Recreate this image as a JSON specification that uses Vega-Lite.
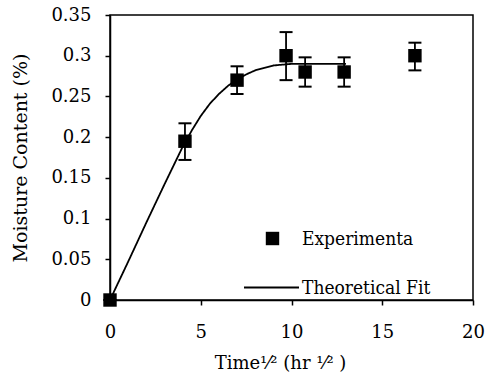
{
  "$schema": "https://vega.github.io/schema/vega-lite/v6.json",
  "width": 363,
  "height": 285,
  "autosize": {"type": "none"},
  "padding": {"left": 110, "top": 15, "right": 13, "bottom": 81},
  "background": "white",
  "config": {
    "view": {"stroke": "black", "strokeWidth": 1.5},
    "font": "DejaVu Serif",
    "axis": {
      "grid": false,
      "labelFlush": false,
      "domainColor": "black",
      "domainWidth": 1.5,
      "tickColor": "black",
      "tickWidth": 1.5,
      "tickSize": 5,
      "labelColor": "black",
      "labelFont": "DejaVu Serif",
      "labelFontSize": 18,
      "titleColor": "black",
      "titleFont": "DejaVu Serif",
      "titleFontSize": 18,
      "titleFontWeight": "normal"
    },
    "legend": {
      "labelFont": "DejaVu Serif Condensed",
      "labelFontSize": 19,
      "labelColor": "black",
      "padding": 0
    }
  },
  "datasets": {
    "pts": [
      {"x": 0, "y": 0, "lo": 0, "hi": 0, "series": "Experimenta"},
      {"x": 4.13, "y": 0.195, "lo": 0.172, "hi": 0.217, "series": "Experimenta"},
      {"x": 7.0, "y": 0.27, "lo": 0.253, "hi": 0.287, "series": "Experimenta"},
      {"x": 9.7, "y": 0.3, "lo": 0.27, "hi": 0.329, "series": "Experimenta"},
      {"x": 10.75, "y": 0.28, "lo": 0.262, "hi": 0.298, "series": "Experimenta"},
      {"x": 12.9, "y": 0.28, "lo": 0.262, "hi": 0.298, "series": "Experimenta"},
      {"x": 16.8, "y": 0.3, "lo": 0.282, "hi": 0.316, "series": "Experimenta"}
    ],
    "fit": [
      {"x": 0, "y": 0, "series": "Theoretical Fit"},
      {"x": 1, "y": 0.047, "series": "Theoretical Fit"},
      {"x": 2, "y": 0.095, "series": "Theoretical Fit"},
      {"x": 3, "y": 0.142, "series": "Theoretical Fit"},
      {"x": 4, "y": 0.188, "series": "Theoretical Fit"},
      {"x": 4.5, "y": 0.208, "series": "Theoretical Fit"},
      {"x": 5, "y": 0.226, "series": "Theoretical Fit"},
      {"x": 5.5, "y": 0.241, "series": "Theoretical Fit"},
      {"x": 6, "y": 0.253, "series": "Theoretical Fit"},
      {"x": 6.5, "y": 0.263, "series": "Theoretical Fit"},
      {"x": 7, "y": 0.271, "series": "Theoretical Fit"},
      {"x": 7.5, "y": 0.277, "series": "Theoretical Fit"},
      {"x": 8, "y": 0.282, "series": "Theoretical Fit"},
      {"x": 8.5, "y": 0.285, "series": "Theoretical Fit"},
      {"x": 9, "y": 0.288, "series": "Theoretical Fit"},
      {"x": 9.5, "y": 0.289, "series": "Theoretical Fit"},
      {"x": 10, "y": 0.29, "series": "Theoretical Fit"},
      {"x": 11, "y": 0.29, "series": "Theoretical Fit"},
      {"x": 12, "y": 0.29, "series": "Theoretical Fit"},
      {"x": 13, "y": 0.29, "series": "Theoretical Fit"}
    ]
  },
  "encoding": {
    "x": {
      "field": "x",
      "type": "quantitative",
      "scale": {"domain": [0, 20], "nice": false},
      "axis": {
        "values": [0, 5, 10, 15, 20],
        "labelPadding": 18,
        "title": "Time¹⁄²  (hr ¹⁄² )",
        "titleX": 170,
        "titlePadding": 13
      }
    },
    "y": {
      "field": "y",
      "type": "quantitative",
      "scale": {"domain": [0, 0.35], "nice": false},
      "axis": {
        "values": [0, 0.05, 0.1, 0.15, 0.2, 0.25, 0.3, 0.35],
        "format": "~g",
        "labelPadding": 14,
        "title": "Moisture Content (%)",
        "titleFontSize": 19,
        "titlePadding": 20
      }
    }
  },
  "layer": [
    {
      "data": {"name": "fit"},
      "mark": {"type": "line", "color": "black", "strokeWidth": 1.8},
      "encoding": {
        "strokeDash": {
          "field": "series",
          "type": "nominal",
          "scale": {"domain": ["Theoretical Fit"], "range": [[1, 0]]},
          "legend": {
            "orient": "none",
            "legendX": 133,
            "legendY": 244,
            "title": null,
            "symbolType": "stroke",
            "symbolSize": 3025,
            "symbolStrokeColor": "black",
            "symbolStrokeWidth": 1.8,
            "labelOffset": 2
          }
        }
      }
    },
    {
      "data": {"name": "pts"},
      "mark": {"type": "rule", "color": "black", "strokeWidth": 1.8},
      "encoding": {
        "y": {"field": "lo", "type": "quantitative"},
        "y2": {"field": "hi"}
      }
    },
    {
      "data": {"name": "pts"},
      "mark": {"type": "tick", "color": "black", "orient": "horizontal", "size": 13, "thickness": 2, "opacity": 1},
      "encoding": {
        "y": {"field": "hi", "type": "quantitative"}
      }
    },
    {
      "data": {"name": "pts"},
      "mark": {"type": "tick", "color": "black", "orient": "horizontal", "size": 13, "thickness": 2, "opacity": 1},
      "encoding": {
        "y": {"field": "lo", "type": "quantitative"}
      }
    },
    {
      "data": {"name": "pts"},
      "mark": {"type": "point", "filled": true, "color": "black", "opacity": 1, "size": 180},
      "encoding": {
        "shape": {
          "field": "series",
          "type": "nominal",
          "scale": {"domain": ["Experimenta"], "range": ["square"]},
          "legend": {
            "orient": "none",
            "legendX": 153,
            "legendY": 214,
            "title": null,
            "symbolFillColor": "black",
            "symbolStrokeWidth": 0,
            "symbolSize": 180,
            "symbolOpacity": 1,
            "labelOffset": 20
          }
        }
      }
    }
  ]
}
